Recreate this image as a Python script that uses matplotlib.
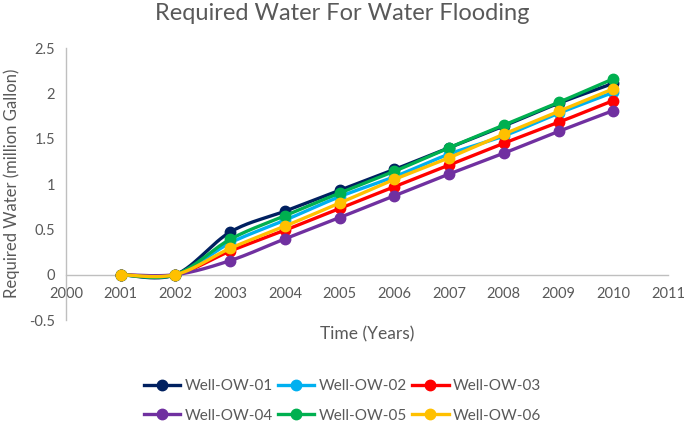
import numpy as np
import matplotlib
matplotlib.use("Agg")
import matplotlib.pyplot as plt
from matplotlib.lines import Line2D

plt.rcParams['font.family'] = ['Lato', 'DejaVu Sans']

years = [2001, 2002, 2003, 2004, 2005, 2006, 2007, 2008, 2009, 2010]
well_ow_01 = [0, 0, 0.47, 0.70, 0.93, 1.16, 1.40, 1.64, 1.89, 2.11]
well_ow_02 = [0, 0, 0.35, 0.60, 0.86, 1.08, 1.33, 1.53, 1.78, 2.01]
well_ow_03 = [0, 0, 0.26, 0.49, 0.73, 0.97, 1.21, 1.45, 1.68, 1.92]
well_ow_04 = [0, 0, 0.155, 0.395, 0.63, 0.87, 1.11, 1.34, 1.58, 1.81]
well_ow_05 = [0, 0, 0.39, 0.65, 0.90, 1.14, 1.40, 1.65, 1.90, 2.16]
well_ow_06 = [0, 0, 0.29, 0.535, 0.79, 1.05, 1.29, 1.55, 1.80, 2.05]

series_names = ['Well-OW-01', 'Well-OW-02', 'Well-OW-03',
                'Well-OW-04', 'Well-OW-05', 'Well-OW-06']
series_values = [well_ow_01, well_ow_02, well_ow_03,
                 well_ow_04, well_ow_05, well_ow_06]
colors = ['#002060', '#00B0F0', '#FF0000', '#7030A0', '#00B050', '#FFC000']

x_ticks = list(range(2000, 2012))
y_ticks = [-0.5, 0, 0.5, 1, 1.5, 2, 2.5]


def smooth(xs, ys, n=30):
    xs = np.asarray(xs, float)
    ys = np.asarray(ys, float)
    px = np.concatenate([[xs[0]], xs, [xs[-1]]])
    py = np.concatenate([[ys[0]], ys, [ys[-1]]])
    outx, outy = [], []
    t = np.linspace(0, 1, n)
    for i in range(1, len(px) - 2):
        p0 = np.array([px[i], py[i]])
        p3 = np.array([px[i + 1], py[i + 1]])
        c1 = p0 + (np.array([px[i + 1], py[i + 1]]) - np.array([px[i - 1], py[i - 1]])) / 6
        c2 = p3 - (np.array([px[i + 2], py[i + 2]]) - np.array([px[i], py[i]])) / 6
        b = ((1 - t) ** 3)[:, None] * p0 + (3 * (1 - t) ** 2 * t)[:, None] * c1 \
            + (3 * (1 - t) * t ** 2)[:, None] * c2 + (t ** 3)[:, None] * p3
        outx.extend(b[:, 0])
        outy.extend(b[:, 1])
    return np.array(outx), np.array(outy)


fig = plt.figure(figsize=(6.85, 4.23), dpi=100)
ax = fig.add_axes([66 / 685, 1 - 320 / 423, (668 - 66) / 685, (320 - 48) / 423])

for name, vals, c in zip(series_names, series_values, colors):
    sx, sy = smooth(years, vals)
    ax.plot(sx, sy, color=c, lw=2.4, solid_capstyle='round', zorder=3)
    ax.plot(years, vals, linestyle='none', marker='o', ms=7.5, color=c, zorder=3)

ax.set_xlim(2000, 2011)
ax.set_ylim(-0.5, 2.5)
ax.set_xticks(x_ticks)
ax.set_yticks(y_ticks)
ax.set_xticklabels([str(v) for v in x_ticks])
ax.set_yticklabels(['-0.5', '0', '0.5', '1', '1.5', '2', '2.5'])

for s in ['top', 'right']:
    ax.spines[s].set_visible(False)
ax.spines['bottom'].set_position(('data', 0))
ax.spines['left'].set_color('#BFBFBF')
ax.spines['bottom'].set_color('#BFBFBF')
ax.spines['left'].set_linewidth(1.0)
ax.spines['bottom'].set_linewidth(1.0)
ax.tick_params(axis='both', length=0, labelsize=10.5, labelcolor='#595959')
ax.tick_params(axis='x', pad=9)
ax.tick_params(axis='y', pad=8)

fig.text(0.5, 1 - 13 / 423, 'Required Water For Water Flooding', ha='center', va='center',
         fontsize=17, color='#595959')
fig.text(367 / 685, 1 - 334 / 423, 'Time (Years)', ha='center', va='center',
         fontsize=12.5, color='#595959')
fig.text(12 / 685, 1 - 183 / 423, 'Required Water (million Gallon)', ha='center', va='center',
         rotation=90, fontsize=12, color='#595959')

handles = [Line2D([0], [0], color=c, lw=2.4, marker='o', ms=7.5) for c in colors]
order = [0, 3, 1, 4, 2, 5]
leg = fig.legend([handles[i] for i in order], [series_names[i] for i in order],
                 ncol=3, loc='center', bbox_to_anchor=(0.5, 1 - 401 / 423),
                 frameon=False, fontsize=11, handlelength=2.4, handletextpad=0.3,
                 columnspacing=0.3, labelspacing=1.0)
for t in leg.get_texts():
    t.set_color('#595959')

fig.savefig('out.png', dpi=100)
